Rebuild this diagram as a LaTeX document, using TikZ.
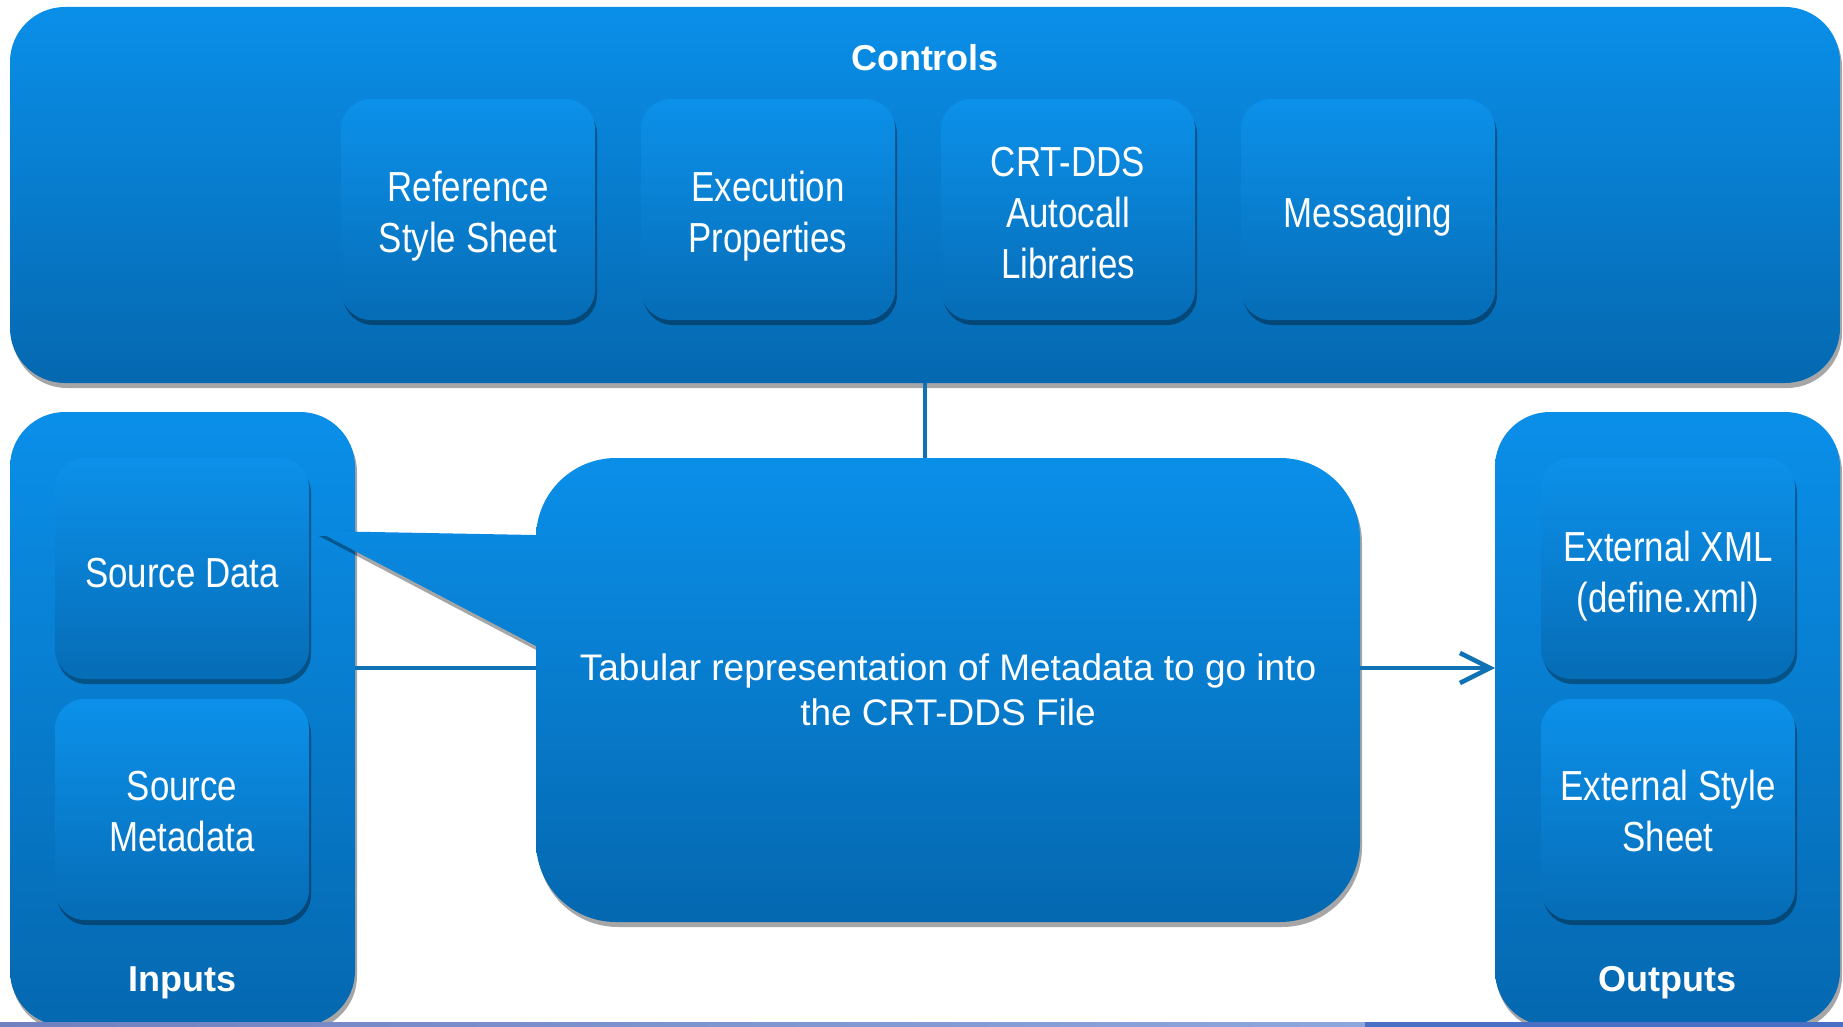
\documentclass[tikz,border=0pt]{standalone}
\usepackage{fontspec}
\setmainfont{Liberation Sans}
\newfontfamily\narrowfont[FakeStretch=0.83]{Liberation Sans}
\usetikzlibrary{shadows,arrows.meta}
\definecolor{btop}{RGB}{10,143,233}
\definecolor{bbot}{RGB}{5,104,176}
\definecolor{ibtop}{RGB}{12,145,234}
\definecolor{ibbot}{RGB}{6,108,182}
\definecolor{linec}{RGB}{14,114,180}
\definecolor{stripeA}{RGB}{112,128,192}
\definecolor{stripeB}{RGB}{142,166,222}
\definecolor{stripeC}{RGB}{74,112,197}
\newcommand\upstrut[1]{\rule{0pt}{#1}}
\begin{document}
\begin{tikzpicture}[x=1pt,y=-1pt,
  shd/.style={drop shadow={shadow xshift=2pt,shadow yshift=-5pt,opacity=0.35,fill=black}},
  panel/.style={rounded corners=55pt, top color=btop, bottom color=bbot, draw=none, shd, inner sep=0pt, outer sep=0pt},
  ibox/.style={rounded corners=30pt, top color=ibtop, bottom color=ibbot, draw=none, shd,
    minimum width=254pt, minimum height=221pt, inner sep=0pt, outer sep=0pt,
    text=white, align=center, font=\narrowfont\fontsize{42}{51}\selectfont},
  ptitle/.style={text=white, font=\bfseries\fontsize{36}{43}\selectfont, inner sep=0pt},
  conn/.style={draw=linec, line width=4.5pt},
]
\useasboundingbox (0,0) rectangle (1843,1027);
\fill[white] (0,0) rectangle (1843,1027);

% panels
\node[panel, minimum width=1830pt, minimum height=376pt] (controls) at (925,195) {};
\node[panel, minimum width=345pt, minimum height=614pt] (inputs) at (182.5,719) {};
\node[panel, minimum width=345pt, minimum height=614pt] (outputs) at (1667.5,719) {};

\node[ptitle] (ctitle) at (925,58) {Controls};
\node[ptitle] (ititle) at (182.5,982.5) {Inputs};
\node[ptitle] (otitle) at (1667.5,982.5) {Outputs};

% control boxes
\node[ibox] (refss) at (468,209.5) {\upstrut{43pt}Reference\\Style Sheet};
\node[ibox] (exec) at (768,209.5) {\upstrut{43pt}Execution\\Properties};
\node[ibox] (crt) at (1068,209.5) {\upstrut{36pt}CRT-DDS\\Autocall\\Libraries};
\node[ibox] (msg) at (1368,209.5) {\upstrut{45pt}Messaging};

% inputs
\node[ibox] (srcdata) at (182,568.5) {\upstrut{38pt}Source Data};
\node[ibox] (srcmeta) at (182,809.5) {\upstrut{33pt}Source\\Metadata};

% outputs
\node[ibox] (extxml) at (1668,568.5) {\upstrut{45pt}External XML\\(define.xml)};
\node[ibox] (extss) at (1668,809.5) {\upstrut{33pt}External Style\\Sheet};

% callout pointer
\path[top color=bbot!15.7!btop, bottom color=bbot!47.8!btop, draw=none, shd]
  (317,531) -- (600,536.2) -- (600,679.6) -- cycle;

% callout
\node[rounded corners=80pt, top color=btop, bottom color=bbot, draw=none, shd,
  minimum width=824pt, minimum height=464pt, inner sep=0pt, outer sep=0pt,
  text=white, align=center, font=\fontsize{37}{44.5}\selectfont] (callout) at (948,690)
  {Tabular representation of Metadata to go into\\the CRT-DDS File};

% connectors
\coordinate (hy) at (0,668);
\draw[conn] (controls.south) -- (controls.south |- callout.north);
\draw[conn] (inputs.east |- hy) -- (callout.west |- hy);
\draw[conn, -{Straight Barb[length=30pt,width=30pt]}] (callout.east |- hy) -- (outputs.west |- hy);

% bottom stripe
\shade[left color=stripeA, right color=stripeB] (0,1022) rectangle (1365,1027);
\fill[stripeC] (1365,1022) rectangle (1843,1027);
\end{tikzpicture}
\end{document}
